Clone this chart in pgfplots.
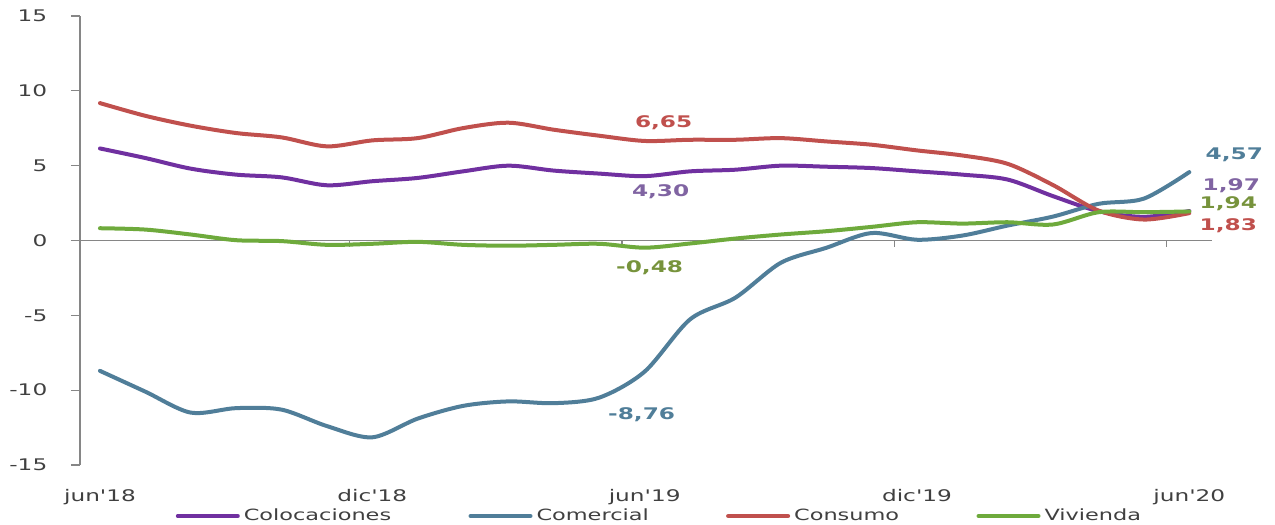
\documentclass[border=0pt]{standalone}
\usepackage{fontspec}
\newfontfamily\dv{DejaVu Sans}[FakeStretch=1.45]
\usepackage{pgfplots}
\pgfplotsset{compat=1.18}
\usepackage{pgfplotstable}

\definecolor{colocol}{HTML}{7030A0}
\definecolor{comcol}{HTML}{507E99}
\definecolor{concol}{HTML}{C0504D}
\definecolor{vivcol}{HTML}{6EAA3C}
\definecolor{cololab}{HTML}{8064A2}
\definecolor{vivlab}{HTML}{77933C}
\definecolor{axgray}{HTML}{868686}
\definecolor{txtgray}{HTML}{404040}

% variacion anual, jun 2018 - jun 2020
\pgfplotstableread{
i  col   com    con   viv
0  6.15  -8.71  9.18  0.82
1  5.51  -10.10 8.33  0.73
2  4.80  -11.50 7.67  0.40
3  4.40  -11.20 7.18  0.02
4  4.22  -11.30 6.89  -0.04
5  3.69  -12.40 6.29  -0.29
6  3.96  -13.15 6.69  -0.22
7  4.18  -11.90 6.84  -0.09
8  4.62  -11.05 7.51  -0.29
9  5.00  -10.75 7.87  -0.35
10 4.67  -10.87 7.40  -0.29
11 4.47  -10.50 7.00  -0.22
12 4.30  -8.76  6.65  -0.48
13 4.62  -5.27  6.73  -0.20
14 4.73  -3.82  6.73  0.13
15 5.00  -1.49  6.84  0.40
16 4.93  -0.49  6.62  0.62
17 4.84  0.50   6.40  0.91
18 4.62  0.05   6.02  1.22
19 4.40  0.33   5.68  1.13
20 4.07  1.00   5.12  1.22
21 2.96  1.60   3.70  1.07
22 1.96  2.45   2.00  1.89
23 1.58  2.80   1.40  1.89
24 1.97  4.57   1.83  1.94
}\datos

\begin{document}
\begin{tikzpicture}
\path[use as bounding box] (-60pt,-45pt) rectangle (896.25pt,348.75pt);
\begin{axis}[
  scale only axis,
  width=849pt, height=336.75pt,
  xmin=-0.44, xmax=24.5,
  ymin=-15, ymax=15,
  clip=false,
  axis y line*=left,
  axis x line*=bottom,
  x axis line style={draw=none},
  y axis line style={axgray, line width=1pt},
  ytick={-15,-10,...,15},
  ytick style={axgray, line width=1pt},
  tick align=outside,
  major tick length=6.75pt,
  xtick={0,6,12,18,24},
  xticklabels={jun'18,dic'18,jun'19,dic'19,jun'20},
  xtick style={draw=none},
  /pgf/number format/assume math mode=true,
  yticklabel style={font=\dv\fontsize{12}{14}\selectfont, text=txtgray, anchor=east, inner sep=0pt, xshift=-17.6pt},
  xticklabel style={font=\dv\fontsize{12}{14}\selectfont, text=txtgray, anchor=base, inner sep=0pt, yshift=-20.8pt},
  every axis plot/.append style={line width=3pt, smooth, line cap=round, line join=round},
  legend columns=4,
  legend style={draw=none, fill=none, at={(0.511,-0.1136)}, anchor=center,
    font=\dv\fontsize{11.6}{13}\selectfont, text=txtgray,
    /tikz/every odd column/.append style={column sep=3pt},
    /tikz/every even column/.append style={column sep=58pt},
    nodes={inner sep=0pt}},
  legend image code/.code={\draw[#1] (0pt,0pt) -- (45pt,0pt);},
]
\draw[axgray, line width=1pt] (axis cs:-0.44,0) -- (axis cs:24.5,0);
\pgfplotsinvokeforeach{5.5,11.5,17.5,23.5}{
  \draw[axgray, line width=1pt] (axis cs:#1,0) -- ++(0pt,-5pt);
}
\addplot[colocol] table[x=i, y=col] {\datos};
\addplot[comcol] table[x=i, y=com] {\datos};
\addplot[concol] table[x=i, y=con] {\datos};
\addplot[vivcol] table[x=i, y=viv] {\datos};
\legend{Colocaciones,Comercial,Consumo,Vivienda}

\begin{scope}[every node/.style={font=\dv\fontsize{12}{14}\selectfont\bfseries, inner sep=0pt}]
\node[text=concol]  at (axis cs:12,6.65)  [xshift=14.25pt, yshift=13.5pt]  {6,65};
\node[text=cololab] at (axis cs:12,4.30)  [xshift=12pt, yshift=-11.6pt]    {4,30};
\node[text=vivlab]  at (axis cs:12,-0.48) [xshift=3.75pt, yshift=-15pt]    {-0,48};
\node[text=comcol]  at (axis cs:12,-8.76) [xshift=-2.25pt, yshift=-32pt]   {-8,76};
\node[text=comcol]  at (axis cs:24,4.57)  [xshift=33.75pt, yshift=13pt]    {4,57};
\node[text=cololab] at (axis cs:24,1.97)  [xshift=31.5pt, yshift=19pt]     {1,97};
\node[text=vivlab]  at (axis cs:24,1.94)  [xshift=29.25pt, yshift=6pt]     {1,94};
\node[text=concol]  at (axis cs:24,1.83)  [xshift=29.25pt, yshift=-9.4pt]  {1,83};
\end{scope}
\end{axis}
\end{tikzpicture}
\end{document}
